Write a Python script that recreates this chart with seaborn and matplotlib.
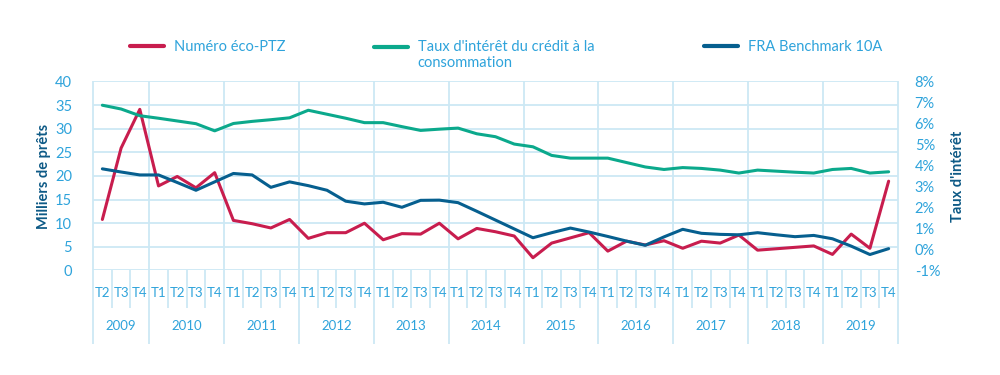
import pandas as pd
import matplotlib.pyplot as plt
import seaborn as sns
from matplotlib.lines import Line2D

# Quarterly series, 2009 T2 -> 2019 T4
years = ['2009', '2010', '2011', '2012', '2013', '2014', '2015', '2016', '2017', '2018', '2019']
quarters = ['T2', 'T3', 'T4'] + ['T1', 'T2', 'T3', 'T4'] * 10

# Numéro éco-PTZ (milliers de prêts, axe gauche)
eco_ptz = [10.8, 25.9, 34.1, 17.9, 19.9, 17.5, 20.7, 10.6, 9.9, 9.0, 10.8,
           6.8, 8.0, 8.0, 10.0, 6.5, 7.8, 7.7, 10.0, 6.7, 8.9, 8.2, 7.3,
           2.7, 5.8, 6.9, 8.0, 4.1, 6.2, 5.4, 6.3, 4.7, 6.2, 5.8, 7.5,
           4.3, 4.6, 4.9, 5.2, 3.4, 7.7, 4.7, 18.9]

# Taux d'intérêt du crédit à la consommation (%, axe droit)
taux_conso = [6.87, 6.69, 6.37, 6.25, 6.12, 5.99, 5.65, 6.00, 6.10, 6.18, 6.27,
              6.63, 6.44, 6.25, 6.04, 6.04, 5.85, 5.67, 5.73, 5.78, 5.51, 5.37, 5.02,
              4.89, 4.48, 4.35, 4.35, 4.35, 4.14, 3.93, 3.81, 3.90, 3.86, 3.78, 3.64,
              3.78, 3.73, 3.68, 3.64, 3.81, 3.86, 3.64, 3.70]

# FRA Benchmark 10A (%, axe droit)
fra_10a = [3.84, 3.69, 3.55, 3.55, 3.19, 2.82, 3.22, 3.62, 3.55, 2.96, 3.22,
           3.04, 2.82, 2.30, 2.17, 2.25, 2.01, 2.34, 2.35, 2.23, 1.82, 1.40, 0.98,
           0.56, 0.80, 1.02, 0.83, 0.62, 0.40, 0.20, 0.60, 0.96, 0.77, 0.72, 0.70,
           0.80, 0.70, 0.61, 0.67, 0.51, 0.16, -0.24, 0.04]

RED = '#C81D4E'
GREEN = '#0BA98C'
BLUE = '#065F8F'
GRID = '#CDE8F4'
TXT = '#2EA3DB'
LABEL = '#0E5A86'

df = pd.DataFrame({'i': range(len(quarters)), 'ptz': eco_ptz,
                   'conso': taux_conso, 'fra': fra_10a})

sns.set_theme(style='white')
plt.rcParams['font.family'] = ['Lato', 'DejaVu Sans']

fig = plt.figure(figsize=(10, 3.75), dpi=100)
ax = fig.add_axes([0.093, 0.2787, 0.805, 0.504])
ax2 = ax.twinx()

sns.lineplot(data=df, x='i', y='ptz', ax=ax, color=RED, lw=2.2)
sns.lineplot(data=df, x='i', y='conso', ax=ax2, color=GREEN, lw=2.2)
sns.lineplot(data=df, x='i', y='fra', ax=ax2, color=BLUE, lw=2.2)

n = len(quarters)
ax.set_xlim(-0.5, n - 0.5)
ax.set_ylim(0, 40)
ax2.set_ylim(-1, 8)
ax.set_yticks(range(0, 41, 5))
ax2.set_yticks(range(-1, 9))
ax2.set_yticklabels([f'{v}%' for v in range(-1, 9)])

for a in (ax, ax2):
    for s in a.spines.values():
        s.set_visible(False)
ax.grid(axis='y', color=GRID, lw=1.3)
ax.set_axisbelow(True)
ax2.grid(False)

ax.tick_params(axis='y', length=0, pad=15, labelsize=10.5, labelcolor=TXT)
ax2.tick_params(axis='y', length=0, pad=12, labelsize=10.5, labelcolor=TXT)
ax.set_xticks(range(n), quarters)
ax.tick_params(axis='x', length=0, pad=12, labelsize=9.5, labelcolor=TXT)

ax.set_xlabel('')
ax.set_ylabel('Milliers de prêts', fontsize=10.5, fontweight='bold', color=LABEL, labelpad=3)
ax2.set_ylabel("Taux d'intérêt", fontsize=10.5, fontweight='bold', color=LABEL, labelpad=8)

# year boundaries and quarter separators
xt = ax.get_xaxis_transform()
bounds = [-0.5] + [i - 0.5 for i, q in enumerate(quarters) if q == 'T1' and i > 0] + [n - 0.5]
ax.vlines(bounds, -0.39, 1, transform=xt, color=GRID, lw=1.3, clip_on=False, zorder=0)
seps = [i + 0.5 for i in range(n - 1) if (i + 0.5) not in bounds]
ax.vlines(seps, -0.2, 0, transform=xt, color=GRID, lw=1.3, clip_on=False, zorder=0)
for k, y in enumerate(years):
    ax.text((bounds[k] + bounds[k + 1]) / 2, -0.295, y, transform=xt,
            ha='center', va='center', fontsize=9.5, color=TXT)

# legend
legend_items = [(RED, 'Numéro éco-PTZ', 0.130),
                (GREEN, "Taux d'intérêt du crédit à la\nconsommation", 0.374),
                (BLUE, 'FRA Benchmark 10A', 0.704)]
for color, label, x in legend_items:
    h = Line2D([], [], color=color, lw=3)
    leg = fig.legend(handles=[h], labels=[label], loc='upper left',
                     bbox_to_anchor=(x, 0.894), frameon=False, fontsize=10.5,
                     handlelength=2.3, handletextpad=0.7, labelcolor=TXT,
                     borderaxespad=0, borderpad=0)
    if '\n' in label:
        lh = leg.legend_handles[0]
        lh.set_ydata([y + 6.2 for y in lh.get_ydata()])

plt.savefig('out.png', dpi=100)
